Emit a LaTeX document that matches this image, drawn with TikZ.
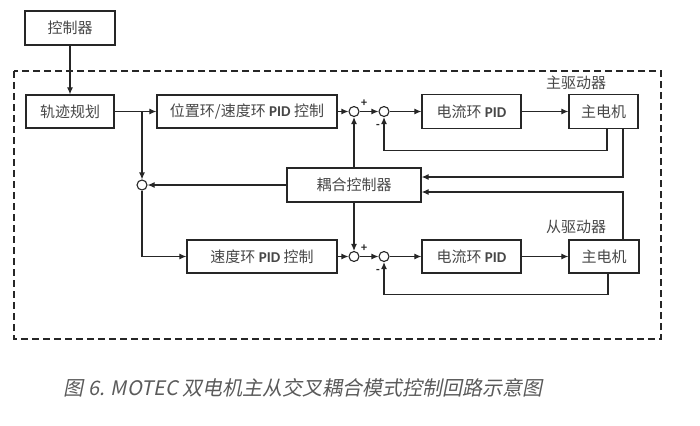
\documentclass[tikz,border=0pt]{standalone}
\usepackage{fontspec}
\setmainfont{Carlito}
\newfontfamily\cjk{Noto Sans CJK SC}
\newfontfamily\capfont[FakeSlant=0.2]{Noto Sans CJK SC}
\usetikzlibrary{arrows.meta}
\definecolor{ln}{HTML}{262626}
\definecolor{capc}{HTML}{5A5A5A}
\begin{document}
\begin{tikzpicture}[x=1pt,y=-1pt,
  box/.style={draw=ln,line width=1.3pt,rectangle,inner sep=0pt,font=\fontsize{15}{17}\selectfont\cjk,text=ln!85},
  sumc/.style={draw=ln,line width=1.1pt,circle,minimum size=10pt,inner sep=0pt,fill=white},
  arr/.style={draw=ln,line width=1.1pt,-{Latex[length=7pt,width=6pt]}},
  ln/.style={draw=ln,line width=1.1pt},
  sgn/.style={font=\fontsize{12}{12}\selectfont\bfseries,text=ln,inner sep=0pt},
  lbl/.style={font=\fontsize{15}{17}\selectfont\cjk,text=ln!85,inner sep=0pt}]
\useasboundingbox (0,0) rectangle (700,425);
\newcommand{\pidtxt}{{\fontspec{Carlito}\bfseries PID}}
% dashed frame
\draw[ln,line width=2pt,dash pattern=on 7pt off 4pt] (14,71) rectangle (661,339);
% boxes
\node[box,minimum width=90pt,minimum height=34pt] (ctrl) at (70,28) {控制器};
\node[box,minimum width=88pt,minimum height=33pt] (traj) at (70,111.5) {轨迹规划};
\node[box,minimum width=180pt,minimum height=33pt] (pos) at (247,111.5) {位置环/速度环 \pidtxt{} 控制};
\node[box,minimum width=99pt,minimum height=34pt] (cur1) at (471.5,111.5) {电流环 \pidtxt};
\node[box,minimum width=69pt,minimum height=34pt] (mot1) at (603.5,111.5) {主电机};
\node[box,minimum width=134pt,minimum height=34pt] (coup) at (354,185) {耦合控制器};
\node[box,minimum width=150pt,minimum height=33pt] (spd) at (262,256.5) {速度环 \pidtxt{} 控制};
\node[box,minimum width=99pt,minimum height=33pt] (cur2) at (471.5,256.5) {电流环 \pidtxt};
\node[box,minimum width=70pt,minimum height=33pt] (mot2) at (604,256.5) {主电机};
% summing circles
\node[sumc] (s1) at (354,111.5) {};
\node[sumc] (s2) at (384,111.5) {};
\node[sumc] (s3) at (142,185) {};
\node[sumc] (s4) at (354,256.5) {};
\node[sumc] (s5) at (384,256.5) {};
\coordinate (br) at (142,111.5);
% labels
\node[lbl] (mainlbl) at (576,83) {主驱动器};
\node[lbl] (slavelbl) at (576,227) {从驱动器};
\node[sgn] (p1) at (364,103) {+};
\node[sgn] (m1) at (378,126) {-};
\node[sgn] (p2) at (364,248) {+};
\node[sgn] (m2) at (378,271) {-};
% connectors
\draw[arr] (ctrl) -- (traj);
\draw[arr] (traj) -- (pos);
\draw[arr] (br) -- (s3);
\draw[arr] (pos) -- (s1);
\draw[arr] (s1) -- (s2);
\draw[arr] (s2) -- (cur1);
\draw[arr] (cur1) -- (mot1);
\draw[arr] ([xshift=3.5pt]mot1.south) -- ++(0,21) -| (s2.south);
\draw[arr] ([xshift=19.5pt]mot1.south) |- ([yshift=8pt]coup.east);
\draw[arr] ([xshift=19pt]mot2.north) |- ([yshift=-7pt]coup.east);
\draw[arr] (coup.north) -- (s1.south);
\draw[arr] (coup.west) -- (s3.east);
\draw[arr] (coup.south) -- (s4.north);
\draw[arr] (s3.south) |- (spd.west);
\draw[arr] (spd) -- (s4);
\draw[arr] (s4) -- (s5);
\draw[arr] (s5) -- (cur2);
\draw[arr] (cur2) -- (mot2);
\draw[arr] ([xshift=4pt]mot2.south) -- ++(0,21) -| (s5.south);
% caption
\node[font=\fontsize{20}{24}\selectfont\capfont,text=capc,inner sep=0pt] (cap) at (303,388) {图 6. MOTEC 双电机主从交叉耦合模式控制回路示意图};
\end{tikzpicture}
\end{document}
